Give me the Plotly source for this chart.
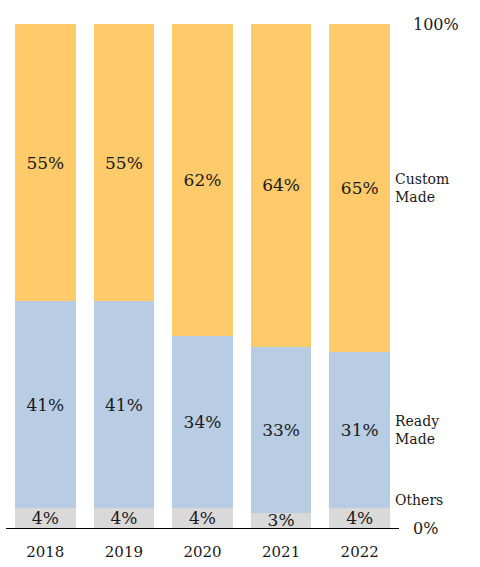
import plotly.graph_objects as go

# data
years = ["2018", "2019", "2020", "2021", "2022"]
others = [4, 4, 4, 3, 4]
ready_made = [41, 41, 34, 33, 31]
custom_made = [55, 55, 62, 64, 65]

FONT = "DejaVu Serif"
TEXT = "#1a1a1a"
COLORS = {"Others": "#D9D9D9", "Ready Made": "#B8CCE4", "Custom Made": "#FFCA69"}

fig = go.Figure()
for name, vals in [("Others", others), ("Ready Made", ready_made), ("Custom Made", custom_made)]:
    fig.add_trace(go.Bar(
        x=years, y=vals, name=name,
        marker=dict(color=COLORS[name], line=dict(width=0)),
        text=[f"{v}%" for v in vals],
        textposition="inside",
        insidetextanchor="middle",
        textfont=dict(family=FONT, size=17, color=TEXT),
        hoverinfo="skip",
    ))

# series labels on the right, next to the last bar's segments
last = len(years) - 1
side = dict(xref="paper", x=1, xshift=-6, xanchor="left", align="left",
            showarrow=False, font=dict(family=FONT, size=14, color=TEXT))
fig.add_annotation(y=others[last] + ready_made[last] + custom_made[last] / 2,
                   text="Custom<br>Made", **side)
fig.add_annotation(y=others[last] + ready_made[last] / 2, text="Ready<br>Made", **side)
fig.add_annotation(y=others[last] + 1.5, text="Others", **side)

# scale ends
ends = dict(xref="paper", x=1, xshift=12, xanchor="left", showarrow=False,
            font=dict(family=FONT, size=16, color=TEXT))
fig.add_annotation(y=100, text="100%", **ends)
fig.add_annotation(y=0, text="0%", **ends)

fig.update_layout(
    barmode="stack",
    bargap=0.23,
    width=480, height=567,
    margin=dict(l=6, r=81, t=24, b=39),
    plot_bgcolor="white", paper_bgcolor="white",
    showlegend=False,
    uniformtext=dict(minsize=17, mode="show"),
    font=dict(family=FONT, color=TEXT),
)
fig.update_xaxes(
    showline=True, linecolor="black", linewidth=1,
    ticks="", showgrid=False, range=[-0.5, 4.5],
    ticklabelstandoff=10,
    tickfont=dict(family=FONT, size=15, color=TEXT),
)
fig.update_yaxes(visible=False, range=[0, 100], showgrid=False)

fig.write_html("out.html", config={"displayModeBar": False},
               post_script="document.body.style.margin='0px';")
